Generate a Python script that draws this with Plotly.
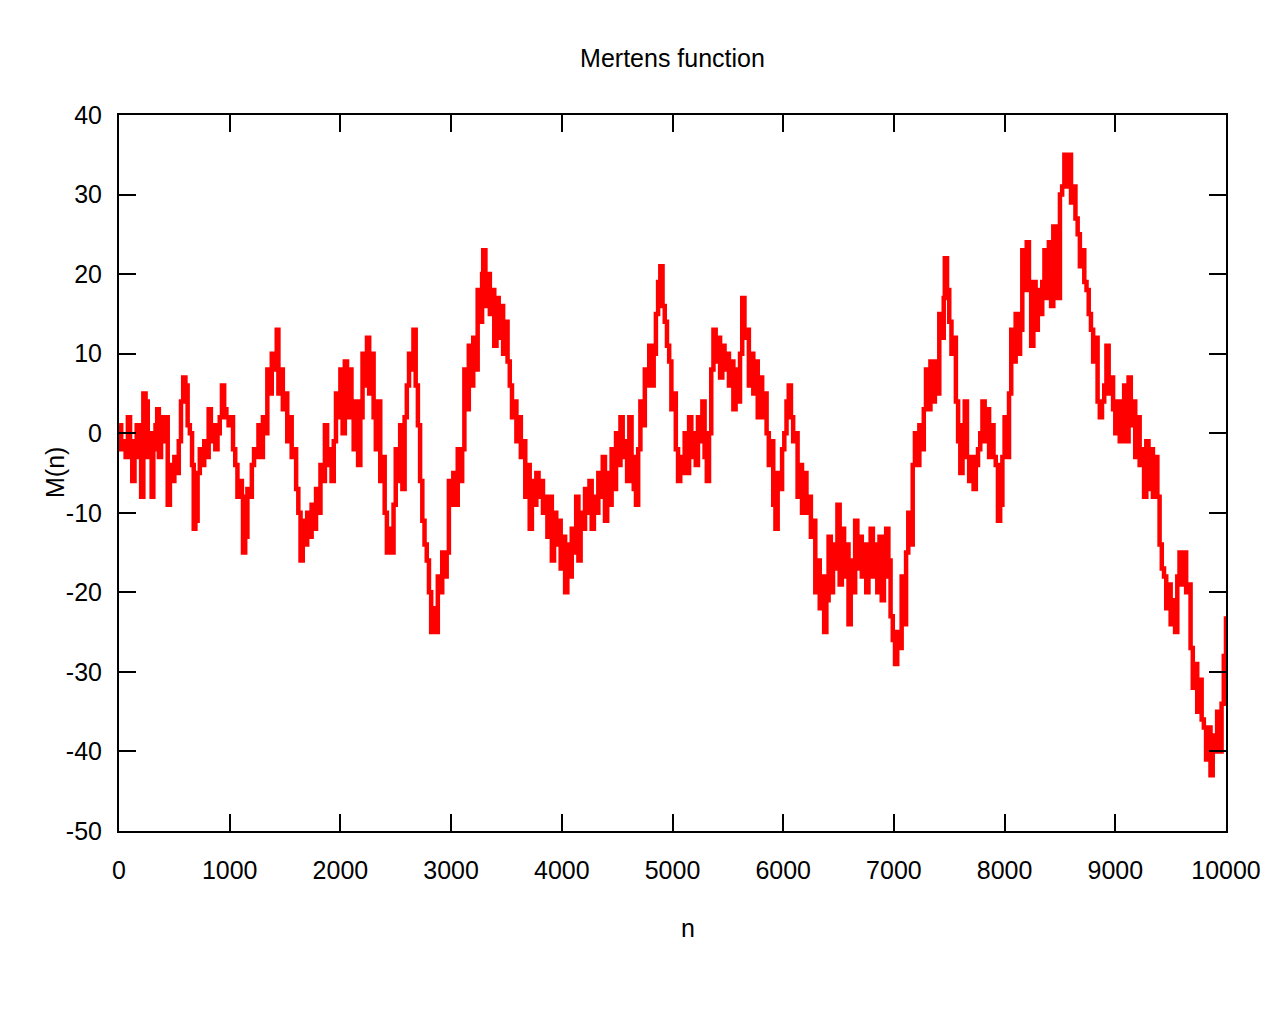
import plotly.graph_objects as go

# Mertens function M(n), samples
# (values alternate between band top and bottom to reproduce the jagged trace)
n_points = [
    1, 20, 40, 60, 80, 100, 120, 140, 160, 180,
    200, 220, 240, 260, 280, 295, 310, 330, 345, 360,
    380, 400, 420, 440, 460, 480, 500, 520, 540, 560,
    580, 600, 620, 640, 660, 675, 690, 710, 730, 750,
    770, 790, 810, 830, 850, 870, 890, 910, 930, 950,
    970, 990, 1010, 1030, 1050, 1070, 1090, 1110, 1120, 1140,
    1160, 1180, 1200, 1220, 1240, 1260, 1280, 1300, 1320, 1340,
    1360, 1380, 1400, 1425, 1440, 1460, 1480, 1500, 1520, 1540,
    1560, 1580, 1600, 1620, 1640, 1660, 1680, 1700, 1720, 1740,
    1760, 1780, 1800, 1820, 1840, 1860, 1880, 1900, 1920, 1940,
    1960, 1980, 2000, 2020, 2040, 2060, 2080, 2100, 2120, 2140,
    2160, 2180, 2200, 2220, 2240, 2260, 2280, 2300, 2320, 2340,
    2360, 2380, 2400, 2420, 2440, 2460, 2480, 2500, 2520, 2540,
    2560, 2580, 2600, 2620, 2640, 2660, 2680, 2700, 2720, 2740,
    2760, 2780, 2800, 2820, 2840, 2860, 2880, 2900, 2920, 2940,
    2960, 2980, 3000, 3020, 3040, 3060, 3080, 3100, 3120, 3140,
    3160, 3180, 3200, 3220, 3240, 3260, 3280, 3290, 3310, 3330,
    3350, 3370, 3390, 3410, 3430, 3450, 3470, 3490, 3510, 3530,
    3550, 3570, 3590, 3610, 3630, 3650, 3670, 3690, 3710, 3730,
    3750, 3770, 3790, 3810, 3830, 3850, 3870, 3890, 3910, 3930,
    3950, 3970, 3990, 4010, 4030, 4050, 4070, 4090, 4110, 4130,
    4150, 4170, 4190, 4210, 4230, 4250, 4270, 4290, 4310, 4330,
    4350, 4370, 4390, 4410, 4430, 4450, 4470, 4490, 4510, 4530,
    4550, 4570, 4590, 4610, 4630, 4650, 4670, 4690, 4710, 4730,
    4750, 4770, 4790, 4810, 4830, 4850, 4870, 4890, 4910, 4930,
    4950, 4970, 4990, 5010, 5030, 5050, 5070, 5090, 5110, 5130,
    5150, 5170, 5190, 5210, 5230, 5250, 5270, 5290, 5310, 5330,
    5350, 5370, 5390, 5410, 5430, 5450, 5470, 5490, 5510, 5530,
    5550, 5570, 5590, 5610, 5630, 5650, 5670, 5690, 5710, 5730,
    5750, 5770, 5790, 5810, 5830, 5850, 5870, 5890, 5910, 5930,
    5950, 5970, 5990, 6010, 6030, 6050, 6070, 6090, 6110, 6130,
    6150, 6170, 6190, 6210, 6230, 6250, 6270, 6290, 6310, 6330,
    6350, 6370, 6390, 6410, 6430, 6450, 6470, 6490, 6510, 6530,
    6550, 6570, 6590, 6610, 6630, 6650, 6670, 6690, 6710, 6730,
    6750, 6770, 6790, 6810, 6830, 6850, 6870, 6890, 6910, 6930,
    6950, 6970, 6990, 7010, 7030, 7050, 7070, 7090, 7110, 7130,
    7150, 7170, 7190, 7210, 7230, 7250, 7270, 7290, 7310, 7330,
    7350, 7370, 7390, 7410, 7430, 7450, 7460, 7480, 7500, 7520,
    7540, 7560, 7580, 7600, 7620, 7640, 7660, 7680, 7700, 7720,
    7740, 7760, 7780, 7800, 7820, 7840, 7860, 7880, 7900, 7920,
    7940, 7960, 7980, 8000, 8020, 8040, 8060, 8080, 8100, 8120,
    8140, 8160, 8180, 8200, 8220, 8240, 8260, 8280, 8300, 8320,
    8340, 8360, 8380, 8400, 8420, 8440, 8460, 8480, 8500, 8520,
    8540, 8560, 8580, 8600, 8620, 8640, 8660, 8680, 8700, 8720,
    8740, 8760, 8780, 8800, 8820, 8840, 8860, 8880, 8900, 8920,
    8940, 8960, 8980, 9000, 9020, 9040, 9060, 9080, 9100, 9120,
    9140, 9160, 9180, 9200, 9220, 9240, 9260, 9280, 9300, 9320,
    9340, 9360, 9380, 9400, 9420, 9440, 9460, 9480, 9500, 9520,
    9540, 9560, 9580, 9600, 9620, 9640, 9660, 9680, 9700, 9720,
    9740, 9760, 9780, 9800, 9820, 9840, 9860, 9880, 9900, 9920,
    9940, 9960, 9980, 10000,
]

mertens = [
    1, -2, -1, -3, 2, -1, -6, -2, 1, -3,
    -8, 5, 4, -3, 0, -8, -2, 1, 3, -3,
    2, -1, 2, -9, -4, -6, -3, -5, -1, 4,
    7, 6, 1, 0, -4, -12, -11, -5, -2, -4,
    -1, -3, 3, -1, 1, -2, 0, 2, 6, 3,
    2, 1, 2, -2, -4, -8, -6, -8, -15, -13,
    -7, -8, -4, -2, -3, 1, -3, 2, 0, 8,
    5, 10, 8, 13, 5, 8, 3, 5, -1, 2,
    -3, -2, -7, -10, -16, -11, -14, -10, -13, -9,
    -12, -7, -10, -4, -6, 1, -4, -2, -6, -1,
    5, 2, 8, 0, 9, 2, 8, 3, -2, 4,
    -4, 2, 10, 6, 12, 5, 10, 2, -2, 4,
    -6, -3, -10, -15, -12, -15, -9, -2, -6, 1,
    -7, 2, 6, 10, 8, 13, 6, 1, -6, -11,
    -14, -16, -20, -25, -22, -25, -18, -20, -15, -18,
    -15, -6, -9, -5, -9, -2, -6, -2, 8, 3,
    11, 6, 12, 8, 18, 14, 20, 23, 16, 20,
    15, 18, 11, 17, 12, 16, 10, 14, 9, 6,
    2, 4, -1, 2, -3, -1, -8, -4, -12, -6,
    -9, -5, -8, -6, -10, -8, -13, -8, -16, -10,
    -14, -11, -17, -13, -20, -14, -18, -12, -15, -8,
    -16, -10, -12, -7, -10, -6, -12, -8, -10, -5,
    -8, -3, -11, -5, -9, -2, -7, 0, -4, 2,
    -3, -1, -6, 2, -3, -7, -9, -2, 4, 1,
    8, 6, 11, 6, 10, 15, 19, 21, 16, 14,
    11, 9, 3, 5, -2, -6, -3, -5, 0, -5,
    2, -3, 0, -4, 2, -1, 4, -3, -6, 0,
    8, 13, 9, 12, 7, 11, 8, 10, 6, 9,
    3, 8, 4, 10, 17, 12, 13, 6, 10, 5,
    9, 2, 7, 2, 5, 0, -4, -1, -9, -12,
    -5, -7, -2, 0, 4, 6, 2, -1, 0, -8,
    -4, -10, -5, -10, -8, -13, -11, -20, -16, -22,
    -18, -25, -21, -13, -20, -14, -17, -9, -19, -12,
    -18, -14, -24, -16, -20, -11, -17, -13, -18, -14,
    -20, -16, -12, -18, -14, -20, -13, -21, -18, -12,
    -16, -23, -26, -29, -25, -27, -18, -24, -15, -10,
    -14, -4, 0, -4, 1, -2, 3, 8, 3, 9,
    4, 9, 5, 15, 12, 17, 22, 18, 14, 10,
    12, 4, -1, -5, 1, 4, -3, -6, -3, -7,
    -4, -2, 0, 4, -1, 3, -3, 1, -3, -4,
    -11, -9, -3, 2, -3, 5, 13, 9, 15, 10,
    13, 23, 18, 24, 18, 11, 19, 13, 18, 15,
    19, 23, 17, 24, 16, 26, 22, 17, 30, 31,
    35, 31, 35, 29, 31, 27, 25, 21, 23, 19,
    18, 15, 13, 9, 12, 4, 2, 4, 6, 11,
    5, 7, 3, 0, 4, -1, 3, 6, -1, 7,
    1, 4, -3, 2, -4, -2, -8, -1, -7, -2,
    -8, -3, -8, -14, -17, -18, -22, -19, -24, -21,
    -25, -18, -15, -19, -15, -20, -19, -27, -32, -29,
    -35, -31, -36, -37, -41, -37, -43, -38, -40, -35,
    -40, -34, -28, -23,
]

x_ticks = [0, 1000, 2000, 3000, 4000, 5000, 6000, 7000, 8000, 9000, 10000]
x_tick_labels = ["0", "1000", "2000", "3000", "4000", "5000",
                 "6000", "7000", "8000", "9000", "10000"]
y_ticks = [-50, -40, -30, -20, -10, 0, 10, 20, 30, 40]
y_tick_labels = ["-50", "-40", "-30", "-20", "-10", "0", "10", "20", "30", "40"]

font = dict(family="Liberation Sans, Arial, sans-serif", size=25, color="black")

fig = go.Figure()
fig.add_trace(go.Scatter(
    x=n_points, y=mertens,
    mode="lines",
    line=dict(color="#ff0000", width=4.5, shape="hv"),
    showlegend=False,
))

axis_style = dict(
    showgrid=False, zeroline=False,
    showline=True, linecolor="black", linewidth=2,
    mirror="allticks", ticks="inside", ticklen=17, tickwidth=2, tickcolor="black",
    tickfont=font,
)

# the page body adds an 8px offset, so margins are shifted to compensate
fig.update_layout(
    width=1280, height=1024,
    margin=dict(l=111, r=62, t=107, b=201),
    paper_bgcolor="white", plot_bgcolor="white",
    font=font,
    title=dict(text="Mertens function", x=0.5, xref="paper",
               y=1 - 50 / 1024, yref="container", yanchor="middle",
               font=font),
    xaxis=dict(range=[0, 10000], tickvals=x_ticks, ticktext=x_tick_labels,
               ticklabelstandoff=16, **axis_style),
    yaxis=dict(range=[-50, 40], tickvals=y_ticks, ticktext=y_tick_labels,
               ticklabelstandoff=10, **axis_style),
    annotations=[
        dict(text="n", xref="paper", yref="paper", x=0.514, y=-0.1355,
             showarrow=False, xanchor="center", yanchor="middle", font=font),
        dict(text="M(n)", xref="paper", yref="paper", x=-0.0578, y=0.5,
             showarrow=False, xanchor="center", yanchor="middle",
             textangle=-90, font=font),
    ],
)

fig.write_html("out.html")
